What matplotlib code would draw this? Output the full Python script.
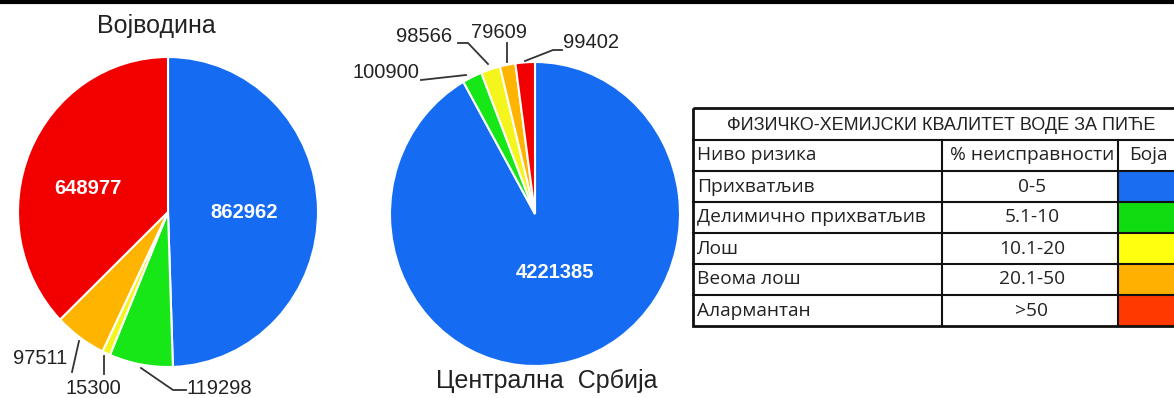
import numpy as np
import matplotlib
matplotlib.use("Agg")
import matplotlib.pyplot as plt
from matplotlib.patches import Rectangle

W, H = 1174, 398

# data
vo_vals = [862962, 119298, 15300, 97511, 648977]
cs_vals = [4221385, 100900, 98566, 79609, 99402]
pie_colors = ['#156cf2', '#17e617', '#f5f51e', '#ffb400', '#f20000']

tbl_title = 'ФИЗИЧКО-ХЕМИЈСКИ КВАЛИТЕТ ВОДЕ ЗА ПИЋЕ'
tbl_head = ['Ниво ризика', '% неисправности', 'Боја']
risk_levels = ['Прихватљив', 'Делимично прихватљив', 'Лош', 'Веома лош', 'Алармантан']
risk_ranges = ['0-5', '5.1-10', '10.1-20', '20.1-50', '>50']
risk_colors = ['#1a6cf0', '#10dd10', '#ffff10', '#ffb000', '#ff3a00']

plt.rcParams['font.family'] = ['Liberation Sans', 'DejaVu Sans']

fig = plt.figure(figsize=(W / 100, H / 100), dpi=100)
fig.patch.set_facecolor('white')

def pie_ax(cx, cy, rx, ry, m=1.1):
    ax = fig.add_axes([(cx - m * rx) / W, (H - cy - m * ry) / H, 2 * m * rx / W, 2 * m * ry / H])
    ax.set_zorder(1)
    return ax

def draw_pie(vals, cx, cy, rx, ry):
    ax = pie_ax(cx, cy, rx, ry)
    wedges, _ = ax.pie(vals, colors=pie_colors, startangle=90, counterclock=False,
                       wedgeprops=dict(edgecolor='white', linewidth=1.5))
    ax.set_xlim(-1.1, 1.1)
    ax.set_ylim(-1.1, 1.1)
    ax.set_aspect('auto')
    ax.axis('off')
    # anchor points of wedges in image pixels
    pts = []
    for w in wedges:
        a = np.radians((w.theta1 + w.theta2) / 2)
        pts.append((cx + rx * np.cos(a), cy - ry * np.sin(a)))
    return pts

vo_pts = draw_pie(vo_vals, 168, 212, 150, 155)
cs_pts = draw_pie(cs_vals, 535, 214, 145, 152)

# overlay in image pixels
ov = fig.add_axes([0, 0, 1, 1])
ov.set_xlim(0, W)
ov.set_ylim(H, 0)
ov.axis('off')
ov.set_zorder(5)
ov.patch.set_alpha(0)

ov.plot([0, W], [1.5, 1.5], color='black', lw=3)

tc = '#222222'
ov.text(156, 26, 'Војводина', fontsize=18, color=tc, ha='center', va='center')
ov.text(547, 381, 'Централна  Србија', fontsize=18, color=tc, ha='center', va='center')

# inside labels
ov.text(88, 189, str(vo_vals[4]), fontsize=14.5, color='white', weight='bold', ha='center', va='center')
ov.text(244, 212, str(vo_vals[0]), fontsize=14.5, color='white', weight='bold', ha='center', va='center')
ov.text(555, 273, str(cs_vals[0]), fontsize=14.5, color='white', weight='bold', ha='center', va='center')

lc = '#333333'
def leader(pts, txt, tx, ty, ha='left'):
    xs = [p[0] for p in pts]
    ys = [p[1] for p in pts]
    ov.plot(xs, ys, color=lc, lw=1.3)
    ov.text(tx, ty, txt, fontsize=14.5, color=tc, ha=ha, va='center')

# Vojvodina outside labels
leader([(72, 372), (79, 341)], str(vo_vals[3]), 67, 358, 'right')
leader([(104, 374), (104, 356)], str(vo_vals[2]), 93, 388, 'center')
leader([(141, 368), (173, 390), (186, 390)], str(vo_vals[1]), 186, 389)

# Centralna Srbija outside labels
leader([(421, 80), (466, 75)], str(cs_vals[1]), 419, 73, 'right')
leader([(458, 43), (468, 43), (488, 64)], str(cs_vals[2]), 424, 37, 'center')
leader([(507, 43), (507, 62)], str(cs_vals[3]), 499, 32, 'center')
leader([(525, 61), (553, 50), (562, 50)], str(cs_vals[4]), 563, 42)

# table
x0, x1, x2, x3 = 693, 942, 1118, 1200
y_top, y_title = 108, 140
row_h = 31
n = len(risk_levels)
y_bot = y_title + row_h * (n + 1)

for i, c in enumerate(risk_colors):
    yy = y_title + row_h * (i + 1)
    ov.add_patch(Rectangle((x2, yy), x3 - x2, row_h, facecolor=c, edgecolor='none'))

ov.add_patch(Rectangle((x0, y_top), x3 - x0, y_bot - y_top, facecolor='none', edgecolor='#111111', lw=2))
for k in range(n + 1):
    yy = y_title + row_h * k
    ov.plot([x0, x3], [yy, yy], color='#111111', lw=1.5)
for xx in (x1, x2):
    ov.plot([xx, xx], [y_title, y_bot], color='#111111', lw=1.5)

ov.text(941, (y_top + y_title) / 2 + 1, tbl_title, fontsize=13,
        family=['Liberation Sans', 'DejaVu Sans'], color=tc, ha='center', va='center')

body_font = ['Open Sans', 'DejaVu Sans']
fs = 13.8
cy0 = y_title + row_h / 2
ov.text(x0 + 4, cy0, tbl_head[0], fontsize=fs, family=body_font, color=tc, ha='left', va='center')
ov.text(1032, cy0, tbl_head[1], fontsize=fs, family=body_font, color=tc, ha='center', va='center')
ov.text(1148, cy0, tbl_head[2], fontsize=fs, family=body_font, color=tc, ha='center', va='center')
for i in range(n):
    yy = y_title + row_h * (i + 1) + row_h / 2
    ov.text(x0 + 4, yy, risk_levels[i], fontsize=fs, family=body_font, color=tc, ha='left', va='center')
    ov.text(1032, yy, risk_ranges[i], fontsize=fs, family=body_font, color=tc, ha='center', va='center')

fig.savefig('out.png', dpi=100)
